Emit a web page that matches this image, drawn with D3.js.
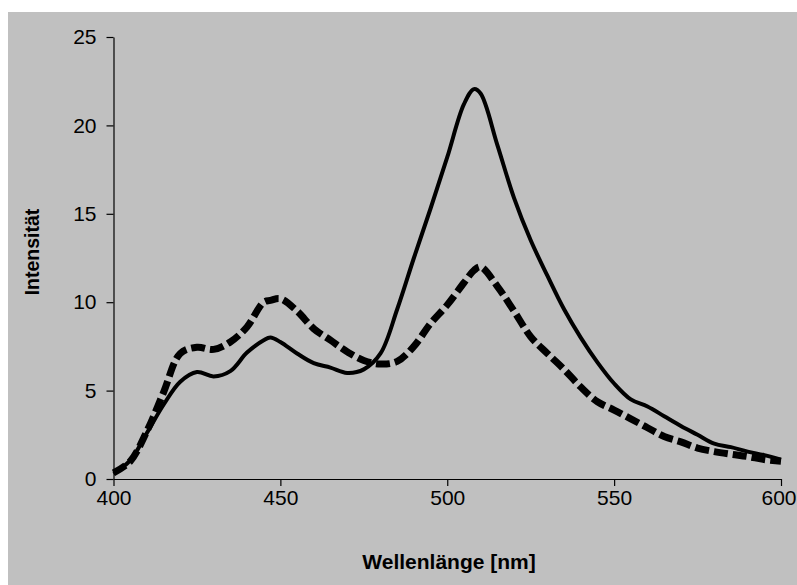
<!DOCTYPE html>
<html>
<head>
<meta charset="utf-8">
<script src="https://cdn.jsdelivr.net/npm/d3@7"></script>
<style>
  body { margin: 0; background: #fff; }
  svg { display: block; font-family: "Liberation Sans", Arial, sans-serif; }
</style>
</head>
<body>
<svg width="797" height="585"></svg>
<script>
// wavelengths (nm) and the two spectra
const wavelengths = [400, 405, 410, 415, 420, 425, 430, 435, 440, 445, 447, 450, 455, 460, 465, 470, 475, 480,
  485, 490, 495, 500, 505, 508, 510, 515, 520, 525, 530, 535, 540, 545, 550, 555, 560, 565, 570, 575, 580,
  585, 590, 595, 600];
const solidValues = [0.3, 1.05, 2.6, 4.2, 5.5, 6.05, 5.8, 6.1, 7.15, 7.85, 8.0, 7.75, 7.1, 6.55, 6.3, 6.0, 6.2, 7.1,
  9.6, 12.5, 15.3, 18.2, 21.2, 22.05, 21.8, 18.9, 15.9, 13.5, 11.5, 9.6, 8.0, 6.6, 5.4, 4.5, 4.1, 3.55, 3.0, 2.5, 2.0,
  1.8, 1.55, 1.35, 1.1];
const dashedValues = [0.35, 1.0, 2.7, 4.9, 7.1, 7.45, 7.33, 7.75, 8.6, 10.0, 10.1, 10.2, 9.5, 8.5, 7.85, 7.2, 6.7, 6.5,
  6.65, 7.5, 8.8, 9.85, 11.1, 11.8, 12.0, 10.9, 9.5, 8.05, 7.1, 6.2, 5.2, 4.37, 3.9, 3.4, 2.9, 2.4, 2.1, 1.75, 1.55,
  1.4, 1.27, 1.1, 1.0];
const xTicks = [400, 450, 500, 550, 600];
const yTicks = [0, 5, 10, 15, 20, 25];

const svg = d3.select('svg');
svg.append('rect').attr('x', 8).attr('y', 12).attr('width', 789).attr('height', 573).attr('fill', '#c0c0c0');

const x = d3.scaleLinear().domain([400, 600]).range([113.5, 781]);
const y = d3.scaleLinear().domain([0, 25]).range([479, 37]);

// axes
const xAxis = svg.append('g').attr('transform', 'translate(0,479)')
  .call(d3.axisBottom(x).tickValues(xTicks).tickSize(7).tickPadding(4).tickSizeOuter(0));
const yAxis = svg.append('g').attr('transform', 'translate(113.5,0)')
  .call(d3.axisLeft(y).tickValues(yTicks).tickSize(7).tickPadding(10).tickSizeOuter(0));
[xAxis, yAxis].forEach(a => {
  a.select('.domain').attr('stroke', '#000').attr('stroke-width', 1.2);
  a.selectAll('.tick line').attr('stroke', '#000').attr('stroke-width', 1.2);
  a.selectAll('.tick text').attr('fill', '#000').style('font-size', '21px');
});
yAxis.selectAll('.tick text').attr('x', -17);
// last label sits right at the edge of the picture
xAxis.selectAll('.tick text').filter(d => d === 600).attr('dx', -2.5);

// lines
const pts = vals => wavelengths.map((w, i) => ({w, v: vals[i]}));
const line = d3.line().x(d => x(d.w)).y(d => y(d.v)).curve(d3.curveCatmullRom.alpha(0.5));

svg.append('path').datum(pts(dashedValues))
  .attr('fill', 'none').attr('stroke', '#000').attr('stroke-width', 7)
  .attr('stroke-dasharray', '14 5').attr('d', line);
svg.append('path').datum(pts(solidValues))
  .attr('fill', 'none').attr('stroke', '#000').attr('stroke-width', 4)
  .attr('stroke-linejoin', 'round').attr('d', line);

// axis titles
svg.append('text').text('Wellenlänge [nm]')
  .attr('x', 449).attr('y', 569).attr('text-anchor', 'middle')
  .style('font-size', '21px').style('font-weight', 'bold');
svg.append('text').text('Intensität')
  .attr('transform', 'translate(39,252) rotate(-90)').attr('text-anchor', 'middle')
  .style('font-size', '19.5px').style('font-weight', 'bold');
</script>
</body>
</html>
